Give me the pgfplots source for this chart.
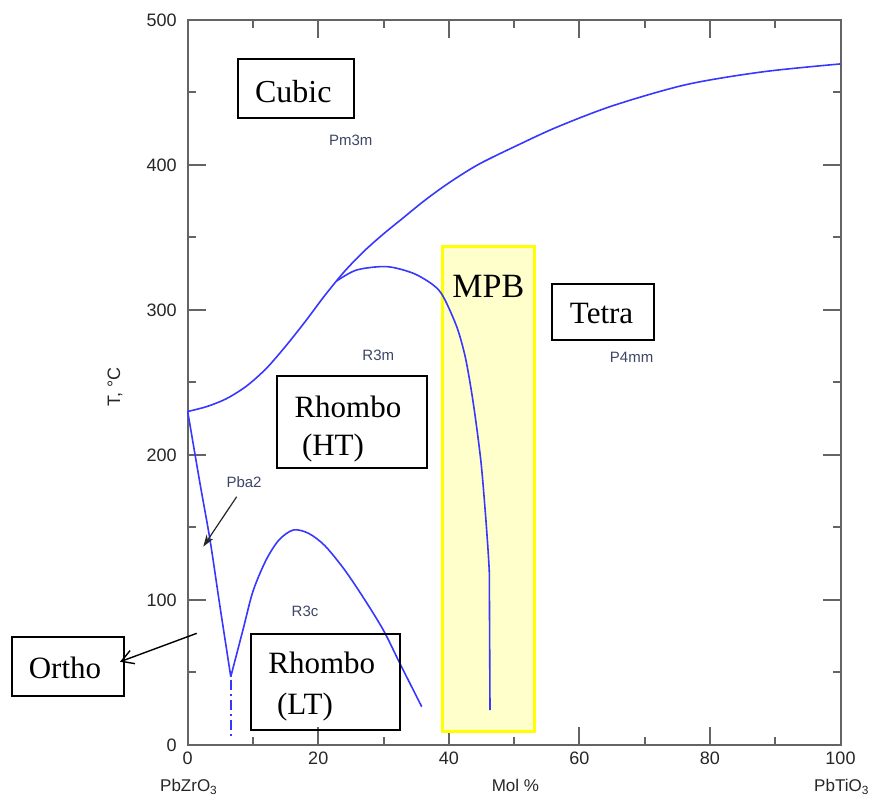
\documentclass[border=0pt]{standalone}
\usepackage{fontspec}
\setmainfont{Liberation Serif}
\setsansfont{Liberation Sans}
\usepackage{pgfplots}
\pgfplotsset{compat=1.18}
\usetikzlibrary{arrows.meta}
\definecolor{curve}{RGB}{55,55,255}
\definecolor{axgray}{RGB}{100,100,100}
\definecolor{mpbfill}{RGB}{255,255,204}
\definecolor{mpbedge}{RGB}{255,255,0}
\definecolor{lbl}{RGB}{60,70,100}
\begin{document}
\begin{tikzpicture}
\begin{axis}[
 at={(0,0)}, anchor=south west,
 scale only axis, width=326.4pt, height=362.5pt,
 xmin=0, xmax=100, ymin=0, ymax=500,
 xtick={0,20,...,100}, ytick={0,100,...,500},
 minor xtick={10,30,50,70,90}, minor ytick={50,150,250,350,450},
 tick align=inside, tick pos=both,
 major tick length=9pt, minor tick length=4pt,
 axis line style={axgray, line width=1pt},
 every tick/.style={axgray, line width=1pt},
 tick label style={font=\sffamily\fontsize{9}{10}\selectfont, text=black!85},
 /pgf/number format/assume math mode=true,
 yticklabel style={xshift=-2pt},
 clip=false,
]
% MPB region
\addplot[draw=mpbedge, fill=mpbfill, line width=1.5pt] coordinates {(39,9.2) (53.2,9.2) (53.2,343.7) (39,343.7)} -- cycle;

% Cubic boundary
\addplot[curve, line width=0.8pt, smooth] coordinates {
(0,230) (3,233.5) (6,239) (9,247.5) (12,259.5) (15,275) (18,292) (21,310)
(24,326.5) (27,340.5) (30,352.5) (33,363.5) (36,374.5) (39,384.5) (42,393.5)
(45,401.5) (50,412.5) (56.5,426) (65.2,441.0) (76.44,455.5)
(88.17,464.3) (100,469.7)};

% R3m / MPB dome
\addplot[curve, line width=0.8pt, smooth] coordinates {
(22.82,320) (25.89,327.6) (30.48,329.9) (34.56,325.3) (37.62,317.2)
(39.15,309.2) (41.21,288.5) (42.5,268) (43.5,243) (44.3,218) (45.0,192)
(45.6,160) (46.0,135) (46.2,120)};
\addplot[curve, line width=0.8pt] coordinates {(46.2,120) (46.31,24.1)};

% Pba2 boundary
\addplot[curve, line width=0.8pt, smooth] coordinates {
(0,230) (1.88,180.5) (3.42,141.4) (4.95,95.4) (6.6,47.1)};
\addplot[curve, line width=0.8pt, dash pattern=on 5pt off 2pt on 1pt off 2pt] coordinates {(6.6,45) (6.6,4.6)};

% R3c dome
\addplot[curve, line width=0.8pt, smooth] coordinates {
(6.6,47.1) (8.5,80) (10,106) (12,127.5) (14,141.5) (16.2,148.3) (18.5,146)
(21,137.5) (24,121) (27,101) (30,79) (32.5,56.3) (35.85,26.4)};

% boxes
\draw[line width=1.1pt] (axis cs:7.75,432.6) rectangle (axis cs:25.48,472.9);
\node[font=\fontsize{16}{18}\selectfont] at (axis cs:16.18,450.6) {Cubic};

\draw[line width=1.1pt] (axis cs:13.63,191) rectangle (axis cs:36.61,254.5);
\node[font=\fontsize{15.5}{18}\selectfont] at (axis cs:24.54,233.3) {Rhombo};
\node[font=\fontsize{15.5}{18}\selectfont] at (axis cs:22.26,204.8) {(HT)};

\draw[line width=1.1pt] (axis cs:9.70,10.3) rectangle (axis cs:32.52,76.3);
\node[font=\fontsize{15.5}{18}\selectfont] at (axis cs:20.53,56.3) {Rhombo};
\node[font=\fontsize{15.5}{18}\selectfont] at (axis cs:17.97,26.4) {(LT)};

\draw[line width=1.1pt] (axis cs:55.76,279.3) rectangle (axis cs:71.43,317.9);
\node[font=\fontsize{15.5}{18}\selectfont] at (axis cs:63.4,297.7) {Tetra};

\node[font=\fontsize{17}{20}\selectfont] at (axis cs:46.05,316) {MPB};

\draw[line width=1.1pt] (axis cs:-26.96,34.0) rectangle (axis cs:-9.76,74.7);
\node[font=\fontsize{15.5}{18}\selectfont] at (axis cs:-18.8,52.9) {Ortho};

% arrows
\draw[-{Stealth[length=6pt,width=4pt]}, black!85, line width=0.6pt] (axis cs:7.5,171.2) -- (axis cs:2.39,136.8);
\draw[-{Straight Barb[length=6pt,width=7pt]}, line width=0.7pt] (axis cs:1.38,77) -- (axis cs:-10.37,57.4);

% phase labels
\node[font=\sffamily\fontsize{7.5}{9}\selectfont, text=lbl] at (axis cs:24.98,417.2) {Pm3m};
\node[font=\sffamily\fontsize{7.5}{9}\selectfont, text=lbl] at (axis cs:29.2,269) {R3m};
\node[font=\sffamily\fontsize{7.5}{9}\selectfont, text=lbl] at (axis cs:68.0,267.2) {P4mm};
\node[font=\sffamily\fontsize{7.5}{9}\selectfont, text=lbl] at (axis cs:8.63,181.2) {Pba2};
\node[font=\sffamily\fontsize{7.5}{9}\selectfont, text=lbl] at (axis cs:17.97,91.9) {R3c};

% axis texts
\node[font=\sffamily\fontsize{8.5}{10}\selectfont, text=black!85, anchor=base] at (axis cs:0.2,-32.4) {PbZrO\textsubscript{3}};
\node[font=\sffamily\fontsize{8.5}{10}\selectfont, text=black!85, anchor=base] at (axis cs:50.2,-32.4) {Mol \%};
\node[font=\sffamily\fontsize{8.5}{10}\selectfont, text=black!85, anchor=base] at (axis cs:100.2,-32.4) {PbTiO\textsubscript{3}};
\node[font=\sffamily\fontsize{9}{10}\selectfont, text=black!85, rotate=90] at (axis cs:-11.14,246.9) {T, °C};
\end{axis}
\pgfresetboundingbox
\path[use as bounding box] (-93.85pt,-28pt) rectangle (342.15pt,372.5pt);
\end{tikzpicture}
\end{document}
